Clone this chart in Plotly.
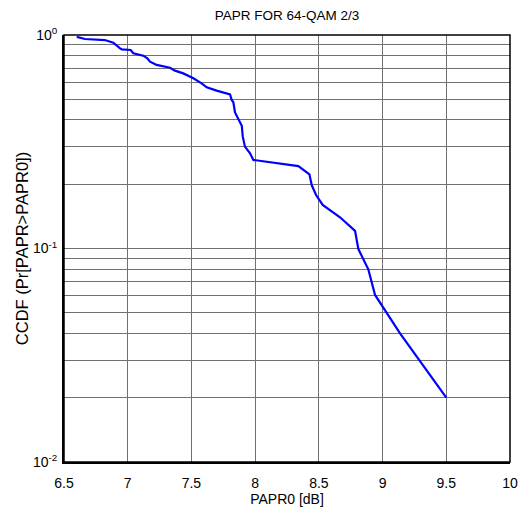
import plotly.graph_objects as go

papr0_db = [6.60, 6.665, 6.82, 6.887, 6.94, 6.953, 7.023, 7.044, 7.122, 7.154, 7.175,
            7.227, 7.332, 7.371, 7.436, 7.515, 7.58, 7.62, 7.698, 7.803, 7.816, 7.829,
            7.842, 7.868, 7.895, 7.903, 7.907, 7.92, 7.96, 7.986, 8.339, 8.426, 8.444,
            8.478, 8.53, 8.666, 8.784, 8.81, 8.888, 8.941, 9.137, 9.50]
ccdf = [0.98, 0.958, 0.947, 0.920, 0.866, 0.857, 0.851, 0.821, 0.80, 0.777, 0.75,
        0.724, 0.703, 0.681, 0.661, 0.627, 0.594, 0.569, 0.549, 0.527, 0.496, 0.484,
        0.434, 0.407, 0.376, 0.334, 0.322, 0.300, 0.279, 0.26, 0.243, 0.2225, 0.198,
        0.178, 0.16, 0.140, 0.121, 0.0994, 0.0799, 0.0606, 0.040, 0.020]

x_ticks = [6.5, 7, 7.5, 8, 8.5, 9, 9.5, 10]
x_ticktext = ["6.5", "7", "7.5", "8", "8.5", "9", "9.5", "10"]
y_ticks = [0.01, 0.1, 1.0]
y_ticktext = ["10<sup>-2</sup>", "10<sup>-1</sup>", "10<sup>0</sup>"]
y_minor = [k * 10.0 ** e for e in (-2, -1) for k in range(2, 10)]

font = "Liberation Sans, Arial, sans-serif"
grid = "#707070"

fig = go.Figure()
fig.add_trace(go.Scatter(x=papr0_db, y=ccdf, mode="lines",
                         line=dict(color="#0000FF", width=2.2), showlegend=False))

fig.update_layout(
    width=520, height=508,
    margin=dict(l=64, r=10, t=35, b=46, autoexpand=False),
    paper_bgcolor="white", plot_bgcolor="white",
    font=dict(family=font, size=13, color="black"),
    title=dict(text="PAPR FOR 64-QAM 2/3", x=0.552, xanchor="center",
               y=0.97, yanchor="middle", font=dict(size=13.5)),
    xaxis=dict(range=[6.5, 10], tickvals=x_ticks, ticktext=x_ticktext,
               tickfont=dict(size=14), ticklabelstandoff=7, automargin=False,
               showgrid=True, gridcolor=grid, gridwidth=1,
               showline=True, linecolor="black", linewidth=2,
               ticks="", zeroline=False,
               title=dict(text="PAPR0 [dB]", standoff=2, font=dict(size=14))),
    yaxis=dict(type="log", range=[-2, 0], tickvals=y_ticks, ticktext=y_ticktext,
               tickfont=dict(size=14), ticklabelstandoff=2, automargin=False,
               showgrid=True, gridcolor=grid, gridwidth=1,
               minor=dict(tickmode="array", tickvals=y_minor, showgrid=True,
                          gridcolor=grid, gridwidth=1, ticks=""),
               showline=True, linecolor="black", linewidth=2,
               ticks="", zeroline=False,
               title=dict(text="CCDF (Pr[PAPR>PAPR0])", standoff=0, font=dict(size=16.5))),
    shapes=[dict(type="rect", xref="paper", yref="paper", x0=0, x1=1, y0=0, y1=1,
                 line=dict(color="black", width=1.5), layer="above")],
)

fig.write_html("out.html")
